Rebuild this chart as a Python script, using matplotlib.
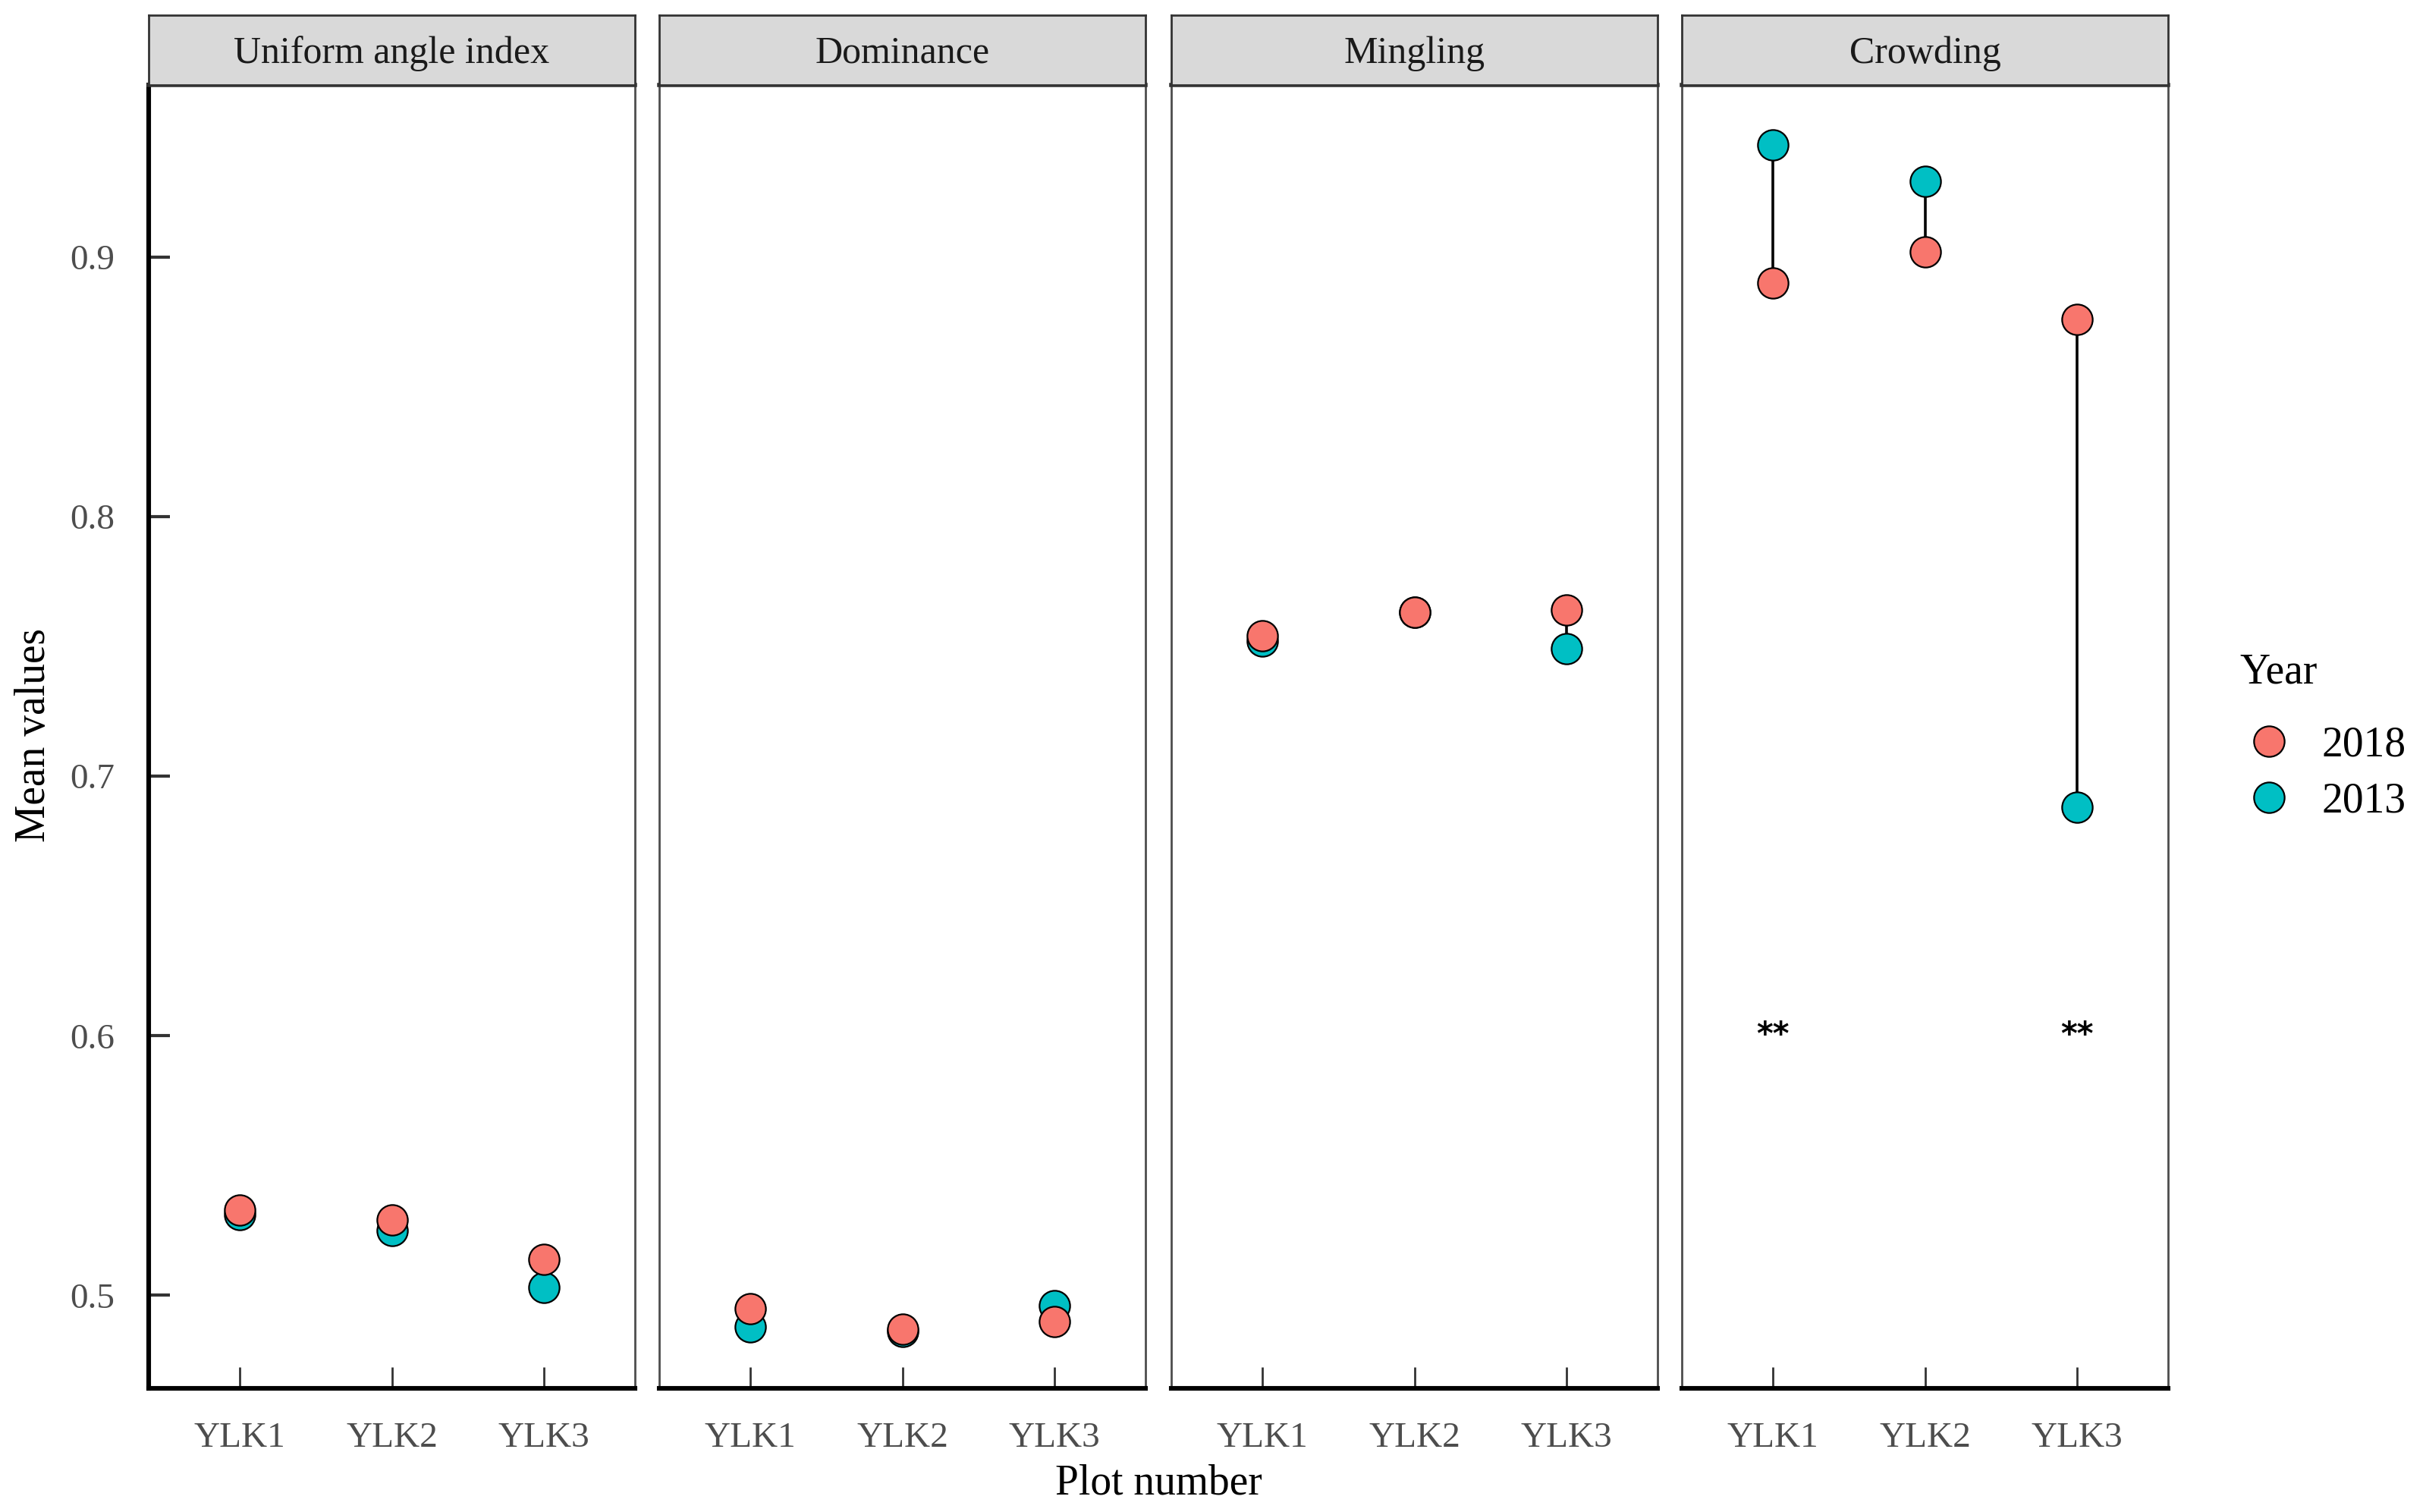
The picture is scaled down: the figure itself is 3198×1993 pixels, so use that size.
import matplotlib.pyplot as plt
import numpy as np

plt.rcParams['font.family'] = ['Liberation Serif', 'DejaVu Serif']

# data
indices = ['Uniform angle index', 'Dominance', 'Mingling', 'Crowding']
plots = ['YLK1', 'YLK2', 'YLK3']
v2018 = [[0.533, 0.529, 0.514],
         [0.495, 0.487, 0.490],
         [0.754, 0.763, 0.764],
         [0.890, 0.902, 0.876]]
v2013 = [[0.531, 0.525, 0.503],
         [0.488, 0.486, 0.496],
         [0.752, 0.763, 0.749],
         [0.943, 0.929, 0.688]]
# significance marks (panel, plot) at y = 0.6
stars = [(3, 0), (3, 2)]
star_y = 0.6

col2018 = '#F8766D'
col2013 = '#00BFC4'

W, H = 3198, 1993
fig = plt.figure(figsize=(W / 200, H / 200), dpi=200)

lefts = [196, 869, 1544, 2217]
pw = 641
ax_top, ax_bot, strip_top = 112, 1830, 20
x = np.arange(1, 4)

for i, name in enumerate(indices):
    l = lefts[i] / W
    ax = fig.add_axes([l, 1 - ax_bot / H, pw / W, (ax_bot - ax_top) / H])
    st = fig.add_axes([l, 1 - ax_top / H, pw / W, (ax_top - strip_top) / H])

    # strip
    st.set_facecolor('#D9D9D9')
    st.set_xticks([])
    st.set_yticks([])
    for s in st.spines.values():
        s.set_color('#333333')
        s.set_linewidth(1.0)
    st.text(0.5, 0.45, name, ha='center', va='center', fontsize=18,
            color='#1A1A1A', transform=st.transAxes)

    a = np.array(v2018[i])
    b = np.array(v2013[i])
    ax.vlines(x, np.minimum(a, b), np.maximum(a, b), color='black', lw=1.3, zorder=1)
    ax.plot(x, b, 'o', ms=14.5, mfc=col2013, mec='black', mew=0.8, zorder=2, label='2013')
    ax.plot(x, a, 'o', ms=14.5, mfc=col2018, mec='black', mew=0.8, zorder=3, label='2018')

    for p, k in stars:
        if p == i:
            ax.text(x[k], star_y, '**', ha='center', va='center', fontsize=15,
                    fontweight='bold', family='DejaVu Sans')

    ax.set_xlim(0.4, 3.6)
    ax.set_ylim(0.4642, 0.9662)
    ax.set_xticks(x)
    ax.set_xticklabels(plots)
    ax.tick_params(axis='x', direction='in', length=10, width=1.0, color='#333333',
                   labelsize=17, labelcolor='#4D4D4D', pad=16)
    for s in ax.spines.values():
        s.set_color('#4D4D4D')
        s.set_linewidth(1.0)
    ax.spines['top'].set_linewidth(2.0)
    ax.spines['top'].set_color('#333333')
    ax.spines['bottom'].set_color('black')
    ax.spines['bottom'].set_linewidth(2.2)
    if i == 0:
        ax.set_yticks([0.5, 0.6, 0.7, 0.8, 0.9])
        ax.set_yticklabels(['0.5', '0.6', '0.7', '0.8', '0.9'])
        ax.tick_params(axis='y', direction='in', length=10, width=1.5, color='#333333',
                       labelsize=17, labelcolor='#4D4D4D', pad=16)
        ax.spines['left'].set_color('black')
        ax.spines['left'].set_linewidth(2.2)
        handles, labels = ax.get_legend_handles_labels()
    else:
        ax.set_yticks([])

fig.text(1527 / W, 1 - 1955 / H, 'Plot number', ha='center', va='center', fontsize=20)
fig.text(45 / W, 1 - 969 / H, 'Mean values', ha='center', va='center',
         fontsize=20, rotation=90)

leg = fig.legend(handles[::-1], labels[::-1], title='Year', loc='upper left',
                 bbox_to_anchor=(2902 / W, 1 - 810 / H), frameon=False,
                 fontsize=20, title_fontsize=20, markerscale=1.0,
                 handletextpad=0.55, labelspacing=0.4, handlelength=1.4)
leg._legend_box.align = 'left'
leg._legend_box.sep = 16

fig.savefig('out.png', dpi=200)
